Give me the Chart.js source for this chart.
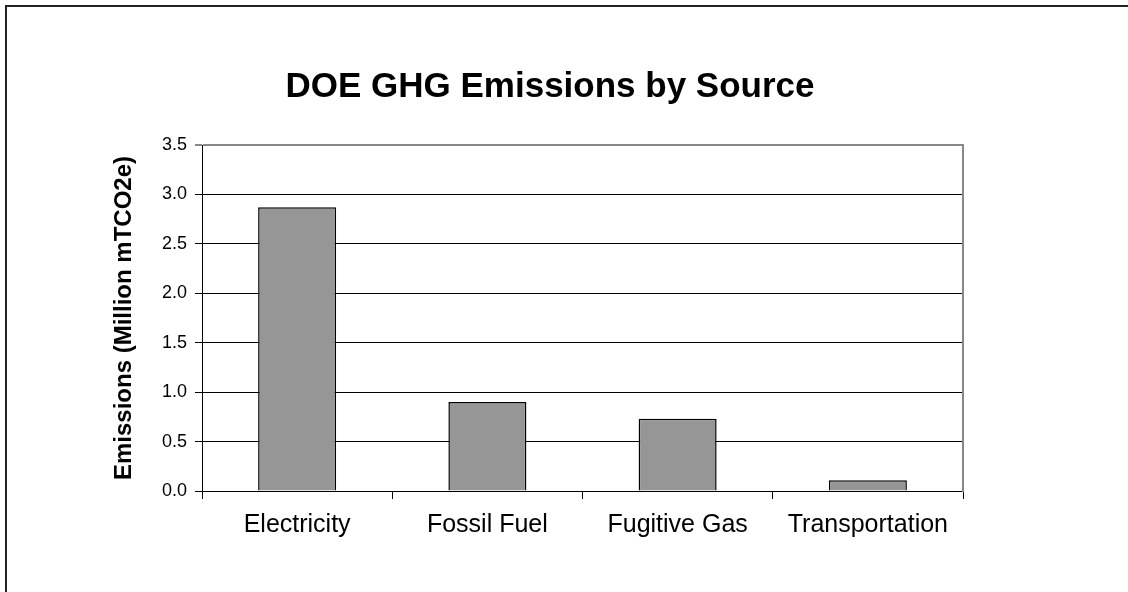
<!DOCTYPE html>
<html>
<head>
<meta charset="utf-8">
<title>DOE GHG Emissions by Source</title>
<script src="https://cdn.jsdelivr.net/npm/chart.js@4/dist/chart.umd.min.js"></script>
<style>
  html, body { margin: 0; padding: 0; background: #fff; overflow: hidden; }
  #wrap { position: relative; width: 1128px; height: 592px; }
  #frame { position: absolute; left: 5px; top: 5px; width: 2000px; height: 2000px;
           border: 2px solid #222; box-sizing: border-box; }
  #chart { position: absolute; left: 0; top: 0; }
</style>
</head>
<body>
<div id="wrap">
  <div id="frame"></div>
  <canvas id="chart" width="1128" height="592"></canvas>
</div>
<script>
const CATEGORIES = ["Electricity", "Fossil Fuel", "Fugitive Gas", "Transportation"];
const EMISSIONS  = [2.87, 0.90, 0.73, 0.11];
const Y_MIN = 0, Y_MAX = 3.5, Y_STEP = 0.5;

const FONT = "'Liberation Sans', Arial, Helvetica, sans-serif";

const ctx = document.getElementById("chart").getContext("2d");
new Chart(ctx, {
  type: "bar",
  data: {
    labels: CATEGORIES,
    datasets: [{
      data: EMISSIONS,
      backgroundColor: "#969696",
      borderColor: "#000",
      borderWidth: 1.5,
      categoryPercentage: 1,
      barPercentage: 0.41
    }]
  },
  options: {
    responsive: false,
    animation: false,
    layout: { padding: { left: 0, right: 28, top: 0, bottom: 0 } },
    plugins: {
      legend: { display: false },
      tooltip: { enabled: false },
      title: {
        display: true,
        text: "DOE GHG Emissions by Source",
        color: "#000",
        font: { family: FONT, size: 35, weight: "bold" },
        padding: { top: 66, bottom: 37 }
      }
    },
    scales: {
      x: {
        offset: true,
        grid: {
          offset: true,
          drawOnChartArea: false,
          drawTicks: true,
          tickLength: 8,
          color: "#000"
        },
        border: { display: true, color: "#000", width: 1 },
        ticks: {
          color: "#000",
          padding: 11,
          maxRotation: 0,
          font: { family: FONT, size: 25 }
        },
        afterFit: (s) => { s.height = 101; }
      },
      y: {
        min: Y_MIN,
        max: Y_MAX,
        grid: {
          color: (c) => (c.tick && c.tick.value === Y_MAX) ? "#888" : "#000",
          lineWidth: (c) => (c.tick && c.tick.value === Y_MAX) ? 2 : 1,
          tickLength: 7,
          drawTicks: true
        },
        border: { display: true, color: "#000", width: 1 },
        ticks: {
          stepSize: Y_STEP,
          color: "#000",
          padding: 8,
          font: { family: FONT, size: 18 },
          callback: (v) => Number(v).toFixed(1)
        },
        title: {
          display: true,
          text: "Emissions (Million mTCO2e)",
          color: "#000",
          font: { family: FONT, size: 24, weight: "bold" },
          padding: { top: 110, bottom: 0 }
        },
        afterFit: (s) => { s.width = 202; }
      },
      yRight: {
        position: "right",
        min: Y_MIN,
        max: Y_MAX,
        grid: { drawOnChartArea: false, drawTicks: false },
        border: { display: true, color: "#888", width: 2 },
        ticks: { display: false },
        afterFit: (s) => { s.width = 137; }
      }
    }
  }
});
</script>
</body>
</html>
